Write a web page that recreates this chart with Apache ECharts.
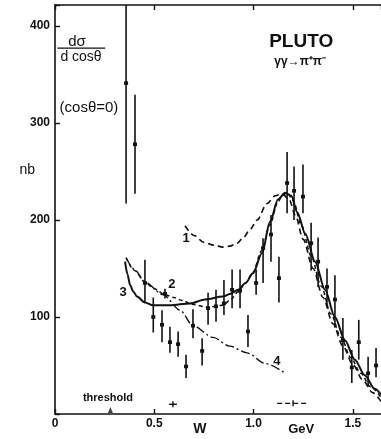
<!DOCTYPE html>
<html>
<head>
<meta charset="utf-8">
<script src="https://cdn.jsdelivr.net/npm/echarts@6/dist/echarts.min.js"></script>
<style>
  html, body { margin: 0; padding: 0; background: #fff; }
  #chart { width: 381px; height: 439px; }
</style>
</head>
<body>
<div id="chart"></div>
<script>
// gamma gamma -> pi+ pi- , d sigma / d cos(theta) at cos(theta)=0, in nb, vs W in GeV
const W      = [0.358, 0.403, 0.453, 0.495, 0.539, 0.554, 0.579, 0.620, 0.660, 0.695, 0.741, 0.771, 0.811, 0.851, 0.892, 0.932, 0.972, 1.013, 1.048, 1.088, 1.128, 1.169, 1.204, 1.249, 1.290, 1.325, 1.370, 1.410, 1.450, 1.495, 1.530, 1.577, 1.617];
const sigma  = [341, 278, 135, 100, 92, 124, 74, 72, 49, 91, 65, 109, 111, 114, 128, 127, 85, 135, 171, 185, 140, 238, 230, 224, 176, 157, 131, 118, 76, 48, 74, 42, 50];
const errHi  = [440, 329, 159, 120, 107, 129, 90, 85, 61, 108, 78, 125, 128, 138, 149, 149, 102, 149, 181, 205, 162, 270, 255, 257, 197, 182, 150, 143, 99, 66, 97, 59, 68];
const errLo  = [217, 227, 115, 84, 74, 119, 63, 59, 37, 78, 50, 92, 95, 102, 109, 109, 69, 123, 135, 157, 115, 207, 200, 207, 148, 131, 112, 89, 56, 32, 56, 28, 38];

// model curves
const curve1 = [[0.655,194],[0.70,184],[0.75,177],[0.80,174],[0.846,172],[0.88,173],[0.917,176],[0.95,182],[0.982,190],[1.018,200],[1.068,217],[1.11,225],[1.144,227],[1.18,221],[1.21,205],[1.25,180],[1.30,150],[1.35,120],[1.40,93],[1.45,70],[1.50,51],[1.55,35],[1.60,22],[1.642,13]];
const curve2 = [[0.358,161],[0.40,148],[0.453,136],[0.50,129],[0.554,123],[0.60,120],[0.64,117],[0.69,113],[0.771,110],[0.846,112],[0.885,118],[0.922,126],[0.96,135],[0.997,146],[1.04,168],[1.083,195],[1.12,217],[1.144,225],[1.169,228],[1.20,220],[1.24,195],[1.29,163],[1.34,132],[1.39,103],[1.44,79],[1.49,58],[1.54,42],[1.59,28],[1.642,17]];
const curve3 = [[0.353,157],[0.365,144],[0.378,133],[0.395,126],[0.413,121],[0.453,115],[0.494,112],[0.579,112],[0.68,114],[0.756,118],[0.846,121],[0.885,124],[0.922,128],[0.96,135],[0.997,145],[1.043,166],[1.083,198],[1.123,221],[1.159,228],[1.19,225],[1.22,208],[1.26,186],[1.31,157],[1.36,128],[1.41,100],[1.46,76],[1.51,56],[1.56,40],[1.61,26],[1.642,20]];
const curve4 = [[0.358,161],[0.40,149],[0.453,136],[0.544,123],[0.63,107],[0.695,91],[0.796,79],[0.88,70],[0.967,63],[1.06,52],[1.159,42]];

// resolution bars: [centre W, half width, height]
const resBars = [[0.594, 0.02, 10], [1.199, 0.08, 11]];
const thresholdW = 0.279;

const xTickValues = [0, 0.5, 1.0, 1.5];
const xTickLabels = ['0', '0.5', '1.0', '1.5'];
const yTickValues = [100, 200, 300, 400];

const X_MAX = 1.642, Y_MAX = 421.5;
const INK = '#111';
const FONT = '"Liberation Sans", Arial, sans-serif';

const chart = echarts.init(document.getElementById('chart'), null, { renderer: 'canvas' });

const points = W.map((w, i) => [w, errHi[i], errLo[i], sigma[i]]);

function lineSeries(data, type, width) {
  return {
    type: 'line', data, showSymbol: false, smooth: 0.3, smoothMonotone: 'x', silent: true,
    lineStyle: { color: INK, width, type }, z: 3
  };
}

chart.setOption({
  animation: false,
  backgroundColor: '#fff',
  grid: { left: 55, right: 0, top: 5, bottom: 25 },
  xAxis: [{
    type: 'value', min: 0, max: X_MAX, interval: 0.5,
    axisLine: { show: true, onZero: false, lineStyle: { color: INK, width: 1.6 } },
    axisTick: { show: true, inside: true, length: 5, lineStyle: { color: INK, width: 1.4 } },
    splitLine: { show: false },
    axisLabel: {
      color: INK, fontFamily: FONT, fontSize: 12, fontWeight: 'bold', margin: 4,
      showMaxLabel: false,
      formatter: v => { const k = xTickValues.findIndex(t => Math.abs(t - v) < 1e-6); return k < 0 ? '' : xTickLabels[k]; }
    }
  }, {
    type: 'value', position: 'top', min: 0, max: X_MAX, interval: 0.5,
    axisLine: { show: true, onZero: false, lineStyle: { color: INK, width: 1.6 } },
    axisTick: { show: true, inside: true, length: 5, lineStyle: { color: INK, width: 1.4 } },
    axisLabel: { show: false }, splitLine: { show: false }
  }],
  yAxis: {
    type: 'value', min: 0, max: Y_MAX, interval: 100,
    axisLine: { show: true, onZero: false, lineStyle: { color: INK, width: 1.6 } },
    axisTick: { show: true, inside: true, length: 5, lineStyle: { color: INK, width: 1.4 } },
    splitLine: { show: false },
    axisLabel: {
      color: INK, fontFamily: FONT, fontSize: 12, fontWeight: 'bold', margin: 5,
      formatter: v => yTickValues.includes(v) ? String(v) : ''
    }
  },
  series: [
    lineSeries(curve1, [6, 4], 1.6),
    lineSeries(curve2, [4, 3], 1.5),
    lineSeries(curve3, 'solid', 2),
    lineSeries(curve4, [9, 3, 2, 3], 1.4),
    {
      type: 'custom', data: points, z: 4, silent: true,
      renderItem: (params, api) => {
        const x = api.value(0);
        const hi = Math.min(api.value(1), Y_MAX);
        const lo = api.value(2);
        const pHi = api.coord([x, hi]);
        const pLo = api.coord([x, lo]);
        const p = api.coord([x, api.value(3)]);
        return {
          type: 'group',
          children: [
            { type: 'line', shape: { x1: pHi[0], y1: pHi[1], x2: pLo[0], y2: pLo[1] }, style: { stroke: INK, lineWidth: 1.6 } },
            { type: 'rect', shape: { x: p[0] - 2, y: p[1] - 1.8, width: 4, height: 3.6 }, style: { fill: INK } }
          ]
        };
      }
    },
    {
      type: 'custom', data: resBars, z: 4, silent: true,
      renderItem: (params, api) => {
        const c = api.value(0), h = api.value(1), y = api.value(2);
        const pl = api.coord([c - h, y]);
        const pr = api.coord([c + h, y]);
        const pc = api.coord([c, y]);
        const dashed = h > 0.05;
        return {
          type: 'group',
          children: [
            { type: 'line', shape: { x1: pl[0], y1: pl[1], x2: pr[0], y2: pr[1] }, style: { stroke: INK, lineWidth: 1.4, lineDash: dashed ? [5, 3] : null } },
            { type: 'line', shape: { x1: pc[0], y1: pc[1] - 3, x2: pc[0], y2: pc[1] + 3 }, style: { stroke: INK, lineWidth: 1.4 } }
          ]
        };
      }
    },
    {
      type: 'scatter', data: [[thresholdW, 4]], symbol: 'triangle', symbolSize: [5, 6],
      itemStyle: { color: INK }, silent: true, z: 4
    }
  ]
});

// text annotations placed in data coordinates
const annotations = [
  { w: 0.111, v: 384, text: 'dσ', size: 15 },
  { w: 0.131, v: 368, text: 'd cosθ', size: 14 },
  { w: 0.171, v: 315, text: '(cosθ=0)', size: 15 },
  { w: -0.14, v: 251, text: 'nb', size: 14 },
  { w: 1.24, v: 384, text: 'PLUTO', size: 19, weight: 'bold' },
  { w: 1.235, v: 363, text: 'γγ→π⁺π⁻', size: 12, weight: 'bold' },
  { w: 0.66, v: 181, text: '1', size: 13, weight: 'bold' },
  { w: 0.589, v: 134, text: '2', size: 13, weight: 'bold' },
  { w: 0.343, v: 125, text: '3', size: 13, weight: 'bold' },
  { w: 1.118, v: 54, text: '4', size: 13, weight: 'bold' },
  { w: 0.267, v: 17, text: 'threshold', size: 11, weight: 'bold' },
  { w: 0.73, v: -15.5, text: 'W', size: 14, weight: 'bold' },
  { w: 1.24, v: -15.5, text: 'GeV', size: 13, weight: 'bold' }
];

const graphics = annotations.map(a => {
  const p = chart.convertToPixel({ xAxisIndex: 0, yAxisIndex: 0 }, [a.w, a.v]);
  return {
    type: 'text', x: p[0], y: p[1], z: 10, silent: true,
    style: {
      text: a.text, fill: INK, font: `${a.weight || 'normal'} ${a.size}px ${FONT}`,
      align: 'center', verticalAlign: 'middle'
    }
  };
});
// fraction bar of d sigma / d cos theta
const fl = chart.convertToPixel({ xAxisIndex: 0, yAxisIndex: 0 }, [0.012, 377]);
const fr = chart.convertToPixel({ xAxisIndex: 0, yAxisIndex: 0 }, [0.253, 377]);
graphics.push({
  type: 'line', z: 10, silent: true,
  shape: { x1: fl[0], y1: fl[1], x2: fr[0], y2: fr[1] },
  style: { stroke: INK, lineWidth: 1.3 }
});
chart.setOption({ graphic: graphics });
</script>
</body>
</html>
